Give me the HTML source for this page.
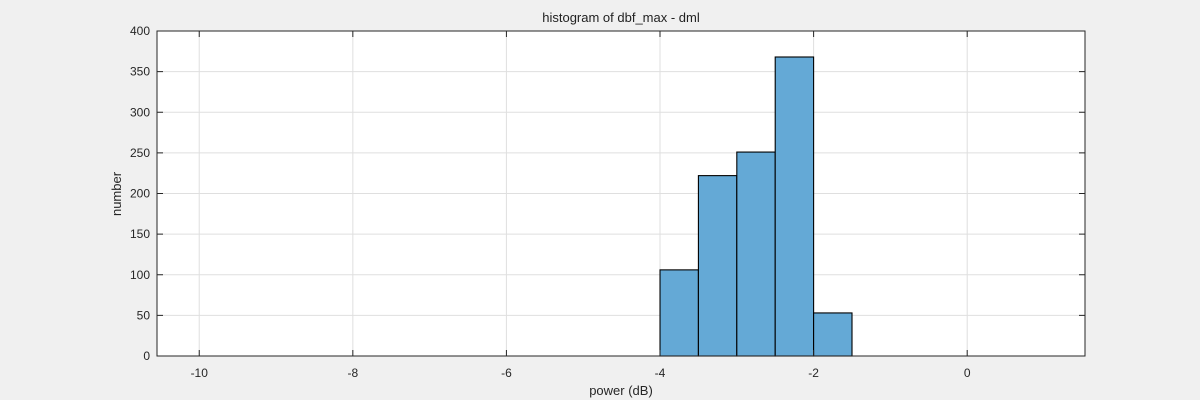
<!DOCTYPE html>
<html><head><meta charset="utf-8"><style>
html,body{margin:0;padding:0;background:#f0f0f0;}
svg{display:block;font-family:"Liberation Sans",Arial,sans-serif;}
</style></head><body>
<svg id="chart" width="1200" height="400" viewBox="0 0 1200 400" xmlns="http://www.w3.org/2000/svg">
<rect x="0" y="0" width="1200" height="400" fill="#f0f0f0"/>
<rect x="157" y="31" width="928" height="325" fill="#ffffff"/>
<g id="grid"></g>
<g id="bars"></g>
<g id="axes"></g>
<text x="621" y="22" text-anchor="middle" font-size="13" fill="#222">histogram of dbf_max - dml</text>
<text x="621" y="395" text-anchor="middle" font-size="13" fill="#262626">power (dB)</text>
<text x="0" y="0" transform="translate(121,194) rotate(-90)" text-anchor="middle" font-size="13" fill="#262626">number</text>
</svg>
<script>
const binEdges = [-4, -3.5, -3, -2.5, -2, -1.5];
const counts = [106, 222, 251, 368, 53];
const xTicks = [-10, -8, -6, -4, -2, 0];
const yTicks = [0, 50, 100, 150, 200, 250, 300, 350, 400];

const L = 157, R = 1085, T = 31, B = 356;
const xMin = -10.55, xMax = 1.534, yMin = 0, yMax = 400;
function xs(v){ return L + (v - xMin) / (xMax - xMin) * (R - L); }
function ys(v){ return B - (v - yMin) / (yMax - yMin) * (B - T); }
const NS = "http://www.w3.org/2000/svg";
function mk(tag, attrs, parent){ const e = document.createElementNS(NS, tag); for (const k in attrs) e.setAttribute(k, attrs[k]); parent.appendChild(e); return e; }
const grid = document.getElementById('grid'), bars = document.getElementById('bars'), axes = document.getElementById('axes');

xTicks.forEach(t => {
  const x = xs(t);
  const g = mk('line', {x1:x, x2:x, y1:T, y2:B, stroke:'#dfdfdf', 'stroke-width':1}, grid);
  
  
  mk('line', {x1:x, x2:x, y1:B, y2:B-6, stroke:'#262626'}, axes);
  mk('line', {x1:x, x2:x, y1:T, y2:T+6, stroke:'#262626'}, axes);
  const lb = mk('text', {x:x, y:B+21, 'text-anchor':'middle', 'font-size':12, fill:'#262626'}, axes);
  lb.textContent = t;
  
  
});
yTicks.forEach(t => {
  const y = ys(t);
  const g = mk('line', {x1:L, x2:R, y1:y, y2:y, stroke:'#dfdfdf', 'stroke-width':1}, grid);
  
  
  mk('line', {x1:L, x2:L+6, y1:y, y2:y, stroke:'#262626'}, axes);
  mk('line', {x1:R, x2:R-6, y1:y, y2:y, stroke:'#262626'}, axes);
  const lb = mk('text', {x:L-7, y:y+4, 'text-anchor':'end', 'font-size':12, fill:'#262626'}, axes);
  lb.textContent = t;
  
  
});
counts.forEach((c, i) => {
  const x0 = xs(binEdges[i]), x1 = xs(binEdges[i+1]);
  const r = mk('rect', {x:x0, y:ys(c), width:x1-x0, height:ys(0)-ys(c), fill:'#64a9d6', stroke:'#000', 'stroke-width':1.1}, bars);
  
  
});
const box = mk('rect', {x:L, y:T, width:R-L, height:B-T, fill:'none', stroke:'#262626', 'stroke-width':1}, axes);


</script>
</body></html>
